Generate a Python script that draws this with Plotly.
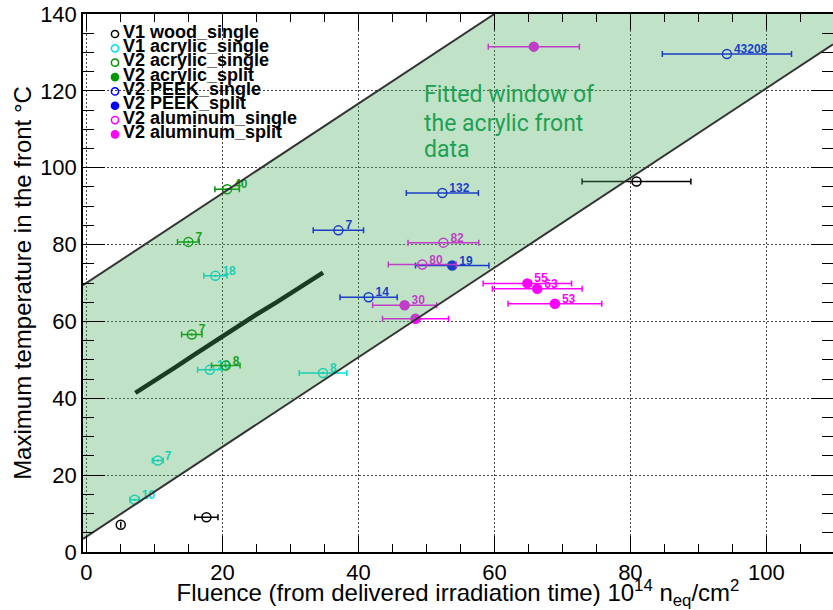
import plotly.graph_objects as go

# ---------------- data ----------------
wood_x = [5.05, 17.65, 80.9]
wood_y = [7.1, 9.05, 96.4]
wood_xerr = [0.0, 1.7, 8.0]
wood_lbl = ["", "", ""]

acr1_x = [18.97, 18.15, 34.8, 10.5, 7.1]
acr1_y = [71.9, 47.4, 46.6, 23.8, 13.6]
acr1_xerr = [1.7, 1.8, 3.5, 0.8, 0.7]
acr1_lbl = ["18", "10", "8", "7", "10"]

acr2_x = [20.7, 15.0, 15.5, 20.5]
acr2_y = [94.4, 80.7, 56.6, 48.5]
acr2_xerr = [1.8, 1.6, 1.5, 2.1]
acr2_lbl = ["40", "7", "7", "8"]

acr2s_x = []
acr2s_y = []
acr2s_xerr = []
acr2s_lbl = []

peek1_x = [94.2, 52.35, 37.06, 41.5]
peek1_y = [129.6, 93.4, 83.7, 66.3]
peek1_xerr = [9.5, 5.3, 3.7, 4.2]
peek1_lbl = ["43208", "132", "7", "14"]

peek2_x = [53.8]
peek2_y = [74.55]
peek2_xerr = [5.4]
peek2_lbl = ["19"]

alu1_x = [52.5, 49.4]
alu1_y = [80.5, 74.8]
alu1_xerr = [5.2, 5.0]
alu1_lbl = ["82", "80"]

alu2_x = [46.8, 48.4, 64.85, 66.3, 68.9, 65.8]
alu2_y = [64.2, 60.7, 69.9, 68.5, 64.6, 131.5]
alu2_xerr = [4.7, 4.85, 6.5, 6.6, 6.9, 6.7]
alu2_lbl = ["30", "", "55", "63", "53", ""]

curve_x = [7.2, 10.0, 13.0, 16.0, 19.0, 22.0, 25.0, 28.0, 31.0, 34.8]
curve_y = [41.4, 44.5, 48.0, 51.5, 55.0, 58.3, 61.8, 65.0, 68.4, 72.7]

# fitted window (band) parameters
band_slope = 7.0 / 6.0
band_low_icpt = 4.0
band_high_icpt = 70.0

legend_names = ["V1 wood_single", "V1 acrylic_single", "V2 acrylic_single", "V2 acrylic_split",
                "V2 PEEK_single", "V2 PEEK_split", "V2 aluminum_single", "V2 aluminum_split"]

# ---------------- layout geometry ----------------
W, H = 833, 610
ML, MR, MT, MB = 83, 0, 14, 58
X_RANGE = [-0.5, 109.8]
Y_RANGE = [0, 140]
PW, PH = W - ML - MR, H - MT - MB
sx = PW / (X_RANGE[1] - X_RANGE[0])
sy = PH / (Y_RANGE[1] - Y_RANGE[0])

BLACK = "rgb(0,0,0)"
CYAN = "rgb(0,225,225)"
GREEN = "rgb(0,150,0)"
BLUE = "rgb(0,0,255)"
MAGENTA = "rgb(255,0,255)"

fig = go.Figure()

# measured curve
fig.add_trace(go.Scatter(x=curve_x, y=curve_y, mode="lines",
                         line=dict(color="black", width=4.5), showlegend=False, hoverinfo="skip"))

series = [
    (wood_x, wood_y, wood_xerr, wood_lbl, BLACK, "circle-open"),
    (acr1_x, acr1_y, acr1_xerr, acr1_lbl, CYAN, "circle-open-dot"),
    (acr2_x, acr2_y, acr2_xerr, acr2_lbl, GREEN, "circle-open-dot"),
    (acr2s_x, acr2s_y, acr2s_xerr, acr2s_lbl, GREEN, "circle"),
    (peek1_x, peek1_y, peek1_xerr, peek1_lbl, BLUE, "circle-open"),
    (peek2_x, peek2_y, peek2_xerr, peek2_lbl, BLUE, "circle"),
    (alu1_x, alu1_y, alu1_xerr, alu1_lbl, MAGENTA, "circle-open"),
    (alu2_x, alu2_y, alu2_xerr, alu2_lbl, MAGENTA, "circle"),
]

LBL_DX, LBL_DY = 7 / sx, 4 / sy
for xs, ys, xe, lb, col, sym in series:
    if not xs:
        continue
    fig.add_trace(go.Scatter(
        x=xs, y=ys, mode="markers",
        marker=dict(symbol=sym, size=9, color=col, line=dict(color=col, width=1.5)),
        error_x=dict(type="data", array=xe, color=col, thickness=1.5, width=3, visible=True),
        showlegend=False, hoverinfo="skip"))
    fig.add_trace(go.Scatter(
        x=[v + LBL_DX for v in xs], y=[v + LBL_DY for v in ys], mode="text", text=lb,
        textposition="middle right",
        textfont=dict(family="Liberation Sans", size=12, color=col, weight="bold"),
        showlegend=False, hoverinfo="skip"))

# band (fitted window), drawn over the points with transparency
x_lo, x_hi = X_RANGE
x_top = (Y_RANGE[1] - band_high_icpt) / band_slope
band_x = [x_lo, x_top, x_hi, x_hi, x_lo]
band_y = [band_high_icpt + band_slope * x_lo, Y_RANGE[1], Y_RANGE[1],
          band_low_icpt + band_slope * x_hi, band_low_icpt + band_slope * x_lo]
fig.add_trace(go.Scatter(x=band_x, y=band_y, mode="lines", fill="toself",
                         fillcolor="rgba(75,175,95,0.35)", line=dict(width=0),
                         showlegend=False, hoverinfo="skip"))
fig.add_trace(go.Scatter(x=[x_lo, x_top], y=[band_y[0], band_y[1]], mode="lines",
                         line=dict(color="#333333", width=2), showlegend=False, hoverinfo="skip"))
fig.add_trace(go.Scatter(x=[x_lo, x_hi], y=[band_y[4], band_y[3]], mode="lines",
                         line=dict(color="#333333", width=2), showlegend=False, hoverinfo="skip"))

# band text
txt_lines = ["Fitted window of", "the acrylic front", "data"]
txt_px_y = [94.7, 123.0, 149.7]
annotations = []
for t, py in zip(txt_lines, txt_px_y):
    annotations.append(dict(text=t, xref="paper", yref="paper",
                            x=(421.7 - ML) / PW, y=(H - MB - py) / PH,
                            xanchor="left", yanchor="middle", showarrow=False,
                            font=dict(family="Roboto", size=23, color="rgb(32,160,84)")))

# manual legend
shapes = []
leg_styles = [(BLACK, False), (CYAN, False), (GREEN, False), (GREEN, True),
              (BLUE, False), (BLUE, True), (MAGENTA, False), (MAGENTA, True)]
for i, (name, (col, filled)) in enumerate(zip(legend_names, leg_styles)):
    cy = 31.5 + 14.35 * i
    annotations.append(dict(text=name, xref="paper", yref="paper",
                            x=(121 - ML) / PW, y=(H - MB - cy) / PH,
                            xanchor="left", yanchor="middle", showarrow=False,
                            font=dict(family="Liberation Sans", size=18, color="black", weight="bold")))
    mx, my = (115 - ML) / PW, (H - MB - (cy + 2.5)) / PH
    shapes.append(dict(type="circle", xref="paper", yref="paper", xsizemode="pixel", ysizemode="pixel",
                       xanchor=mx, yanchor=my, x0=-3.6, x1=3.6, y0=-3.6, y1=3.6,
                       line=dict(color=col, width=1.5),
                       fillcolor=col if filled else "rgba(0,0,0,0)", layer="above"))

axis_font = dict(family="Liberation Sans", size=22, color="black")
GRID = dict(showgrid=True, gridcolor="#444444", griddash="2px,2px", gridwidth=1)
fig.update_layout(
    width=W, height=H, margin=dict(l=ML, r=MR, t=MT, b=MB),
    paper_bgcolor="white", plot_bgcolor="white", showlegend=False,
    annotations=annotations, shapes=shapes,
    xaxis=dict(range=X_RANGE, tickmode="linear", tick0=0, dtick=20, automargin=False,
               ticks="inside", ticklen=16, tickwidth=1, tickcolor="black",
               minor=dict(ticks="inside", ticklen=8, dtick=5, tick0=0, tickcolor="black", showgrid=False),
               showline=True, linecolor="black", linewidth=1.5, mirror=True,
               zeroline=False, tickfont=axis_font, **GRID,
               title=dict(text="Fluence (from delivered irradiation time) 10<sup>14</sup> n<sub>eq</sub>/cm<sup>2</sup>",
                          font=dict(family="Liberation Sans", size=24, color="black"), standoff=0)),
    yaxis=dict(range=Y_RANGE, tickmode="linear", tick0=0, dtick=20, automargin=False,
               ticks="inside", ticklen=22, tickwidth=1, tickcolor="black",
               minor=dict(ticks="inside", ticklen=11, dtick=5, tick0=0, tickcolor="black", showgrid=False),
               showline=True, linecolor="black", linewidth=1.5, mirror=True,
               zeroline=False, tickfont=axis_font, **GRID,
               title=dict(text="Maximum temperature in the front °C",
                          font=dict(family="Liberation Sans", size=24, color="black"), standoff=2)),
    xaxis2=dict(range=X_RANGE, overlaying="x", side="top", anchor="y", tickmode="linear", tick0=0, dtick=20,
                automargin=False, ticks="inside", ticklen=16, tickwidth=1, tickcolor="black",
                minor=dict(ticks="inside", ticklen=8, dtick=5, tick0=0, tickcolor="black", showgrid=False),
                showticklabels=False, showgrid=False, zeroline=False, showline=False),
    yaxis2=dict(range=Y_RANGE, overlaying="y", side="right", anchor="x", tickmode="linear", tick0=0, dtick=20,
                automargin=False, ticks="inside", ticklen=22, tickwidth=1, tickcolor="black",
                minor=dict(ticks="inside", ticklen=11, dtick=5, tick0=0, tickcolor="black", showgrid=False),
                showticklabels=False, showgrid=False, zeroline=False, showline=False),
)
# invisible trace to activate the mirrored tick axes
fig.add_trace(go.Scatter(x=[X_RANGE[0]], y=[Y_RANGE[0]], xaxis="x2", yaxis="y2", mode="markers",
                         marker=dict(opacity=0), showlegend=False, hoverinfo="skip"))

fig.write_html("out.html", config={"displayModeBar": False},
               post_script="document.body.style.margin='0px';")
